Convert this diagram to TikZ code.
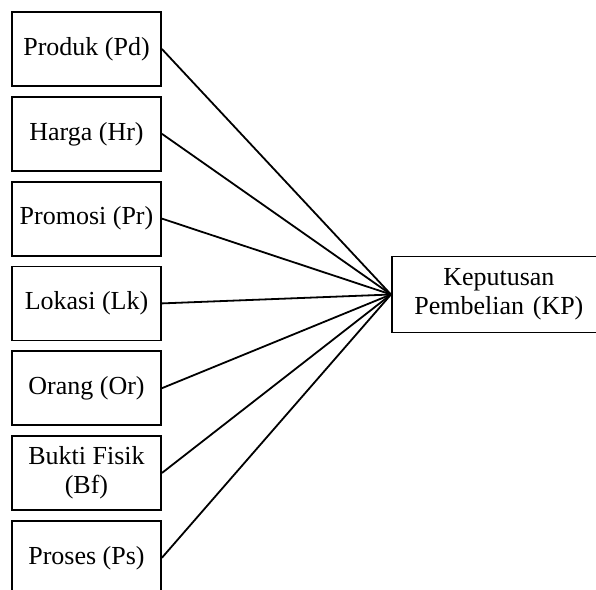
\documentclass[tikz,border=0pt]{standalone}
\usepackage{fontspec}
\setmainfont{Liberation Serif}
\usepackage{tikz}
\usetikzlibrary{positioning}

\begin{document}
\begin{tikzpicture}[
  varbox/.style={draw, line width=0.9pt, minimum width=74.5pt, minimum height=37pt, inner sep=1pt, align=center, font=\fontsize{13}{14.5}\selectfont},
  link/.style={line width=0.9pt},
  node distance=4.5pt
]
\clip (0,0) rectangle (298pt,-295pt);
\useasboundingbox (0,0) rectangle (298pt,-295pt);

\node[varbox] at (43.25pt,-24.5pt)(pd){Produk (Pd)};
\node[varbox, below=of pd](hr){Harga (Hr)};
\node[varbox, below=of hr](pr){Promosi (Pr)};
\node[varbox, below=of pr](lk){Lokasi (Lk)};
\node[varbox, below=of lk](or){Orang (Or)};
\node[varbox, below=of or](bf){Bukti Fisik\\(Bf)};
\node[varbox, below=of bf](ps){Proses (Ps)};

\node[varbox, anchor=west, minimum width=107pt, minimum height=38pt, text width=100pt] at (195.5pt,-147.25pt)(kp){Keputusan\\Pembelian (KP)};

\foreach \v in {pd,hr,pr,lk,or,bf,ps}
  \draw[link] (\v.east) -- (kp.west);
\end{tikzpicture}
\end{document}
